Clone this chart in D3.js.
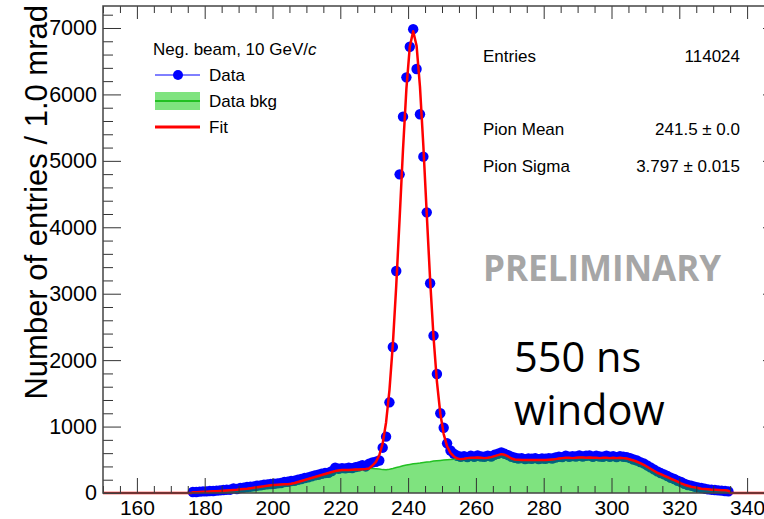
<!DOCTYPE html>
<html>
<head>
<meta charset="utf-8">
<script src="https://cdn.jsdelivr.net/npm/d3@7"></script>
<style>
  body { margin: 0; background: #fff; }
  svg { display: block; }
  .tick line { stroke: #333; stroke-width: 1; }
  text { font-family: "Liberation Sans", Arial, Helvetica, sans-serif; }
</style>
</head>
<body>
<script>
// Histogram binning: 1.0 mrad bins, first bin starts at 176 mrad
const firstBinEdge = 176;
const binWidth = 1.0;

// Measured counts per bin (data points)
const dataCounts = [
  15, 15, 20, 25, 25, 30, 30, 35, 40, 45,
  50, 50, 70, 60, 75, 80, 90, 95, 100, 110,
  115, 125, 130, 135, 140, 145, 150, 165, 170, 180,
  185, 200, 210, 225, 235, 250, 265, 275, 290, 300,
  305, 330, 380, 365, 375, 370, 380, 375, 390, 400,
  420, 400, 440, 460, 470, 490,
  682, 848, 1365, 2198, 3342, 4797, 5665, 6257, 6718, 6982,
  6383, 5701, 5063, 4225, 3157, 2369, 1791, 1200, 983, 748,
  640, 590, 560, 545, 555, 540, 560, 545, 565, 550,
  545, 560, 550, 575, 590, 610, 590, 570, 545, 530,
  520, 525, 510, 520, 515, 525, 510, 520, 515, 525,
  520, 535, 545, 540, 560, 545, 555, 550, 565, 550,
  560, 565, 545, 560, 550, 545, 560, 545, 555, 540,
  555, 545, 540, 525, 505, 490, 465, 445, 415, 385,
  355, 325, 300, 280, 255, 230, 210, 185, 165, 140,
  120, 110, 95, 85, 75, 65, 55, 50, 45, 40,
  35, 30, 25
];

// Background estimate per bin
const bkgCounts = [
  10, 12, 15, 18, 20, 22, 25, 28, 30, 33,
  36, 40, 45, 48, 55, 60, 65, 72, 80, 88,
  95, 100, 108, 115, 120, 125, 128, 130, 133, 138,
  150, 165, 180, 195, 210, 225, 240, 255, 270, 285,
  300, 315, 330, 340, 345, 345, 348, 350, 352, 355,
  358, 362, 370,
  368, 365, 360, 352, 350, 358, 370, 385, 395, 410,
  420, 430, 440, 445, 450, 460, 465, 470, 480, 485,
  490, 495, 500, 505, 508,
  520, 510, 515, 525, 530, 530, 535, 530,
  525, 530, 540, 555, 570, 585, 575, 550, 520, 505,
  500, 495, 495, 495, 495, 495, 495, 495, 495, 500,
  505, 510, 520, 525, 530, 530, 525, 530, 535, 535,
  530, 535, 530, 530, 525, 530, 530, 525, 530, 525,
  530, 525, 520, 505, 490, 470, 450, 425, 395, 365,
  335, 305, 285, 260, 240, 215, 195, 170, 145, 125,
  110, 95, 85, 75, 65, 60, 55, 50, 48, 45,
  42, 40, 35
];

// Fit (pion peak + background template) evaluated at bin centres
const fitCounts = [
  10, 12, 15, 18, 20, 22, 25, 28, 30, 33,
  36, 40, 45, 48, 55, 60, 65, 72, 80, 88,
  95, 100, 108, 115, 120, 125, 128, 130, 133, 138,
  150, 165, 180, 195, 210, 225, 240, 255, 270, 285,
  300, 315, 330, 340, 345, 345, 348, 350, 352, 355,
  358, 362, 370,
  414, 468, 568, 747, 1062, 1550, 2238, 3120, 4132, 5174,
  6087, 6718, 6950, 6733, 6117, 5224, 4202, 3205, 2348, 1675,
  1197, 887, 703,
  603, 550, 520, 510, 515, 525, 530, 530, 535, 530,
  525, 530, 540, 555, 570, 585, 575, 550, 520, 505,
  500, 495, 495, 495, 495, 495, 495, 495, 495, 500,
  505, 510, 520, 525, 530, 530, 525, 530, 535, 535,
  530, 535, 530, 530, 525, 530, 530, 525, 530, 525,
  530, 525, 520, 505, 490, 470, 450, 425, 395, 365,
  335, 305, 285, 260, 240, 215, 195, 170, 145, 125,
  110, 95, 85, 75, 65, 60, 55, 50, 48, 45,
  42, 40, 35
];

// Axis ticks
const xTicks = [160, 180, 200, 220, 240, 260, 280, 300, 320, 340];
const yTicks = [0, 1000, 2000, 3000, 4000, 5000, 6000, 7000];
const xDomain = [150, 350];
const yDomain = [0, 7331];

// Text content
const yTitle = "Number of entries / 1.0 mrad";
const legendTitle = ["Neg. beam, 10 GeV/", "c"];
const legendLabels = ["Data", "Data bkg", "Fit"];
const statNames = ["Entries", "Pion Mean", "Pion Sigma"];
const statValues = ["114024", "241.5 \u00b1 0.0", "3.797 \u00b1 0.015"];

const W = 764, H = 519;
const frame = { left: 103, top: 6, right: 781, bottom: 493 };

const svg = d3.select("body").append("svg")
  .attr("width", W).attr("height", H);

const x = d3.scaleLinear().domain(xDomain).range([frame.left, frame.right]);
const y = d3.scaleLinear().domain(yDomain).range([frame.bottom, frame.top]);

const bins = dataCounts.map((v, i) => ({
  c: firstBinEdge + (i + 0.5) * binWidth,
  data: v,
  bkg: bkgCounts[i],
  fit: fitCounts[i]
}));
const lastBinEdge = firstBinEdge + bins.length * binWidth;

// Data markers
svg.append("g").selectAll("circle").data(bins).join("circle")
  .attr("cx", d => x(d.c))
  .attr("cy", d => y(d.data))
  .attr("r", 5.2)
  .attr("fill", "#0000ff");

// Background: translucent green fill drawn over the markers
const bkgPts = [{ c: firstBinEdge, v: 0 }, ...bins.map(d => ({ c: d.c, v: d.bkg })), { c: lastBinEdge, v: 0 }];
svg.append("path")
  .datum(bkgPts)
  .attr("d", d3.area().x(d => x(d.c)).y0(y(0)).y1(d => y(d.v)))
  .attr("fill", "rgba(0,200,0,0.5)");
svg.append("path")
  .datum(bkgPts)
  .attr("d", d3.line().x(d => x(d.c)).y(d => y(d.v)))
  .attr("fill", "none")
  .attr("stroke", "#22c022")
  .attr("stroke-width", 1.5);

// Fit curve
const fitPts = [{ c: xDomain[0], v: 0 }, { c: firstBinEdge, v: 0 },
  ...bins.map(d => ({ c: d.c, v: d.fit })),
  { c: lastBinEdge, v: 0 }, { c: xDomain[1], v: 0 }];
svg.append("path")
  .datum(fitPts)
  .attr("d", d3.line().x(d => x(d.c)).y(d => y(d.v)))
  .attr("fill", "none")
  .attr("stroke", "#ff0000")
  .attr("stroke-width", 2.5)
  .attr("stroke-linejoin", "round");

// Axes (ticks point into the frame)
const noDomain = g => g.select(".domain").remove();
const minorX = d3.range(xDomain[0], xDomain[1] + 0.1, 5).filter(v => !xTicks.includes(v));
const minorY = d3.range(0, yDomain[1], 200).filter(v => !yTicks.includes(v));

svg.append("g").attr("transform", `translate(0,${frame.bottom})`)
  .call(d3.axisBottom(x).tickValues(xTicks).tickSize(-15).tickPadding(7).tickFormat(d3.format("d")))
  .call(noDomain)
  .call(g => g.selectAll("text").attr("fill", "#000").attr("font-size", 21)
    .attr("font-family", "'Liberation Sans', Arial, sans-serif"));
svg.append("g").attr("transform", `translate(0,${frame.bottom})`)
  .call(d3.axisBottom(x).tickValues(minorX).tickSize(-7).tickFormat(""))
  .call(noDomain);
svg.append("g").attr("transform", `translate(0,${frame.top})`)
  .call(d3.axisTop(x).tickValues(xTicks).tickSize(-13).tickFormat(""))
  .call(noDomain);
svg.append("g").attr("transform", `translate(0,${frame.top})`)
  .call(d3.axisTop(x).tickValues(minorX).tickSize(-7).tickFormat(""))
  .call(noDomain);

svg.append("g").attr("transform", `translate(${frame.left},0)`)
  .call(d3.axisLeft(y).tickValues(yTicks).tickSize(-18).tickPadding(6).tickFormat(d3.format("d")))
  .call(noDomain)
  .call(g => g.selectAll("text").attr("fill", "#000").attr("font-size", 21.5)
    .attr("font-family", "'Liberation Sans', Arial, sans-serif"));
svg.append("g").attr("transform", `translate(${frame.left},0)`)
  .call(d3.axisLeft(y).tickValues(minorY).tickSize(-10).tickFormat(""))
  .call(noDomain);
svg.append("g").attr("transform", `translate(${frame.right},0)`)
  .call(d3.axisRight(y).tickValues(yTicks).tickSize(-18).tickFormat(""))
  .call(noDomain);
svg.append("g").attr("transform", `translate(${frame.right},0)`)
  .call(d3.axisRight(y).tickValues(minorY).tickSize(-10).tickFormat(""))
  .call(noDomain);

// Frame
svg.append("rect")
  .attr("x", frame.left).attr("y", frame.top)
  .attr("width", frame.right - frame.left).attr("height", frame.bottom - frame.top)
  .attr("fill", "none").attr("stroke", "#444").attr("stroke-width", 1.5);

// Y-axis title
svg.append("text")
  .attr("transform", `translate(47,${frame.top - 1}) rotate(-90)`)
  .attr("text-anchor", "end")
  .attr("font-size", 31)
  .attr("fill", "#000")
  .text(yTitle);

// Legend
const lg = svg.append("g").attr("font-size", 17).attr("fill", "#000");
const lt = lg.append("text").attr("x", 153).attr("y", 55);
lt.append("tspan").text(legendTitle[0]);
lt.append("tspan").attr("font-style", "italic").text(legendTitle[1]);

const rowY = [75, 101, 127];
lg.append("line").attr("x1", 155).attr("x2", 200).attr("y1", rowY[0]).attr("y2", rowY[0])
  .attr("stroke", "#0000ff").attr("stroke-width", 1);
lg.append("circle").attr("cx", 178).attr("cy", rowY[0]).attr("r", 5).attr("fill", "#0000ff");
lg.append("rect").attr("x", 155).attr("y", rowY[1] - 9).attr("width", 45).attr("height", 18)
  .attr("fill", "rgba(0,200,0,0.5)");
lg.append("line").attr("x1", 155).attr("x2", 200).attr("y1", rowY[1]).attr("y2", rowY[1])
  .attr("stroke", "#22c022").attr("stroke-width", 2);
lg.append("line").attr("x1", 155).attr("x2", 200).attr("y1", rowY[2]).attr("y2", rowY[2])
  .attr("stroke", "#ff0000").attr("stroke-width", 3);
legendLabels.forEach((t, i) => {
  lg.append("text").attr("x", 209).attr("y", rowY[i] + 6).text(t);
});

// Statistics box
const statY = [62, 135, 172];
const sg = svg.append("g").attr("font-size", 17).attr("fill", "#000");
statNames.forEach((t, i) => {
  sg.append("text").attr("x", 483).attr("y", statY[i]).text(t);
  sg.append("text").attr("x", 740).attr("y", statY[i]).attr("text-anchor", "end").text(statValues[i]);
});

// Annotations
svg.append("text")
  .attr("x", 483).attr("y", 281)
  .attr("font-family", "'Open Sans', sans-serif")
  .attr("font-weight", "bold")
  .attr("font-size", 35)
  .attr("fill", "#a6a6a6")
  .style("font-family", "'Open Sans', sans-serif")
  .text("PRELIMINARY");
const note = svg.append("g")
  .attr("font-size", 41.5)
  .attr("fill", "#000");
note.append("text").attr("x", 514).attr("y", 372).style("font-family", "'Open Sans', sans-serif").text("550 ns");
note.append("text").attr("x", 514).attr("y", 425).style("font-family", "'Open Sans', sans-serif").text("window");
</script>
</body>
</html>
